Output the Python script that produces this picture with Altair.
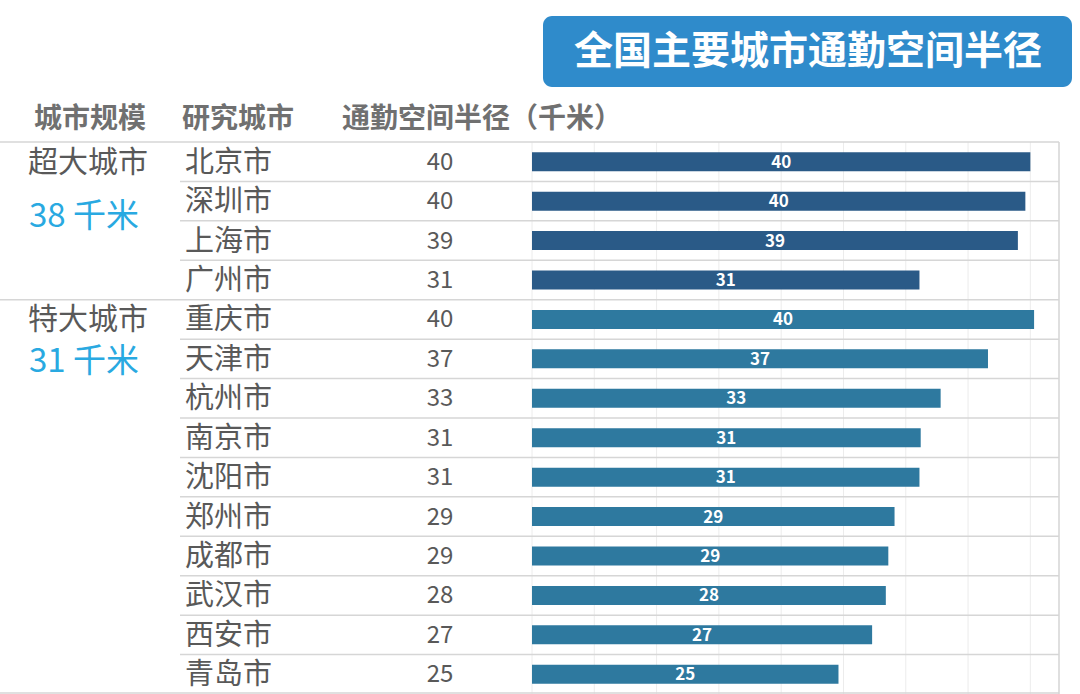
import altair as alt
import pandas as pd

# ---- data ----
groups = ["超大城市"] * 4 + ["特大城市"] * 10
cities = ["北京市", "深圳市", "上海市", "广州市", "重庆市", "天津市", "杭州市",
          "南京市", "沈阳市", "郑州市", "成都市", "武汉市", "西安市", "青岛市"]
radius = [40.0, 39.6, 39.0, 31.1, 40.3, 36.6, 32.8, 31.2, 31.1, 29.1, 28.6, 28.4, 27.3, 24.6]
group_names = ["超大城市", "特大城市"]
group_avg = [38, 31]
grid_ticks = [0, 5, 10, 15, 20, 25, 30, 35, 40]
title_text = "全国主要城市通勤空间半径"
headers = ["城市规模", "研究城市", "通勤空间半径（千米）"]

FONT = "Noto Sans CJK SC"
TXT = "#595959"

df = pd.DataFrame({"group": groups, "city": cities, "radius": radius})
df["label"] = df["radius"].round().astype(int).astype(str)
df["first"] = df["group"] != df["group"].shift(1)

gdf = pd.DataFrame({"group": group_names, "avg": group_avg})
gdf["first_city"] = [df[df.group == g].city.iloc[0] for g in group_names]
gdf["second_city"] = [df[df.group == g].city.iloc[1] for g in group_names]
gdf["avg_text"] = gdf["avg"].astype(str) + " 千米"

ticks_df = pd.DataFrame({"tick": grid_ticks})
one = alt.Data(values=[{}])

xscale = alt.Scale(domain=[0, 42.3], range=[532, 1059])
yscale = alt.Scale(domain=cities, paddingInner=0, paddingOuter=0)
Yc = alt.Y("city:N", scale=yscale, axis=None, sort=cities)

# vertical grid lines
grid = alt.Chart(ticks_df).mark_rule(color="#ececec", strokeWidth=1).encode(
    x=alt.X("tick:Q", scale=xscale, axis=None)
)
right_border = alt.Chart(one).mark_rule(color="#d4d4d4", strokeWidth=1.5).encode(
    x=alt.value(1059), y=alt.value(0), y2=alt.value(552)
)

# horizontal row separators
row_lines = alt.Chart(df).transform_filter("!datum.first").mark_rule(
    color="#d6d6d6", strokeWidth=1.5
).encode(
    y=alt.Y("city:N", scale=yscale, axis=None, sort=cities, bandPosition=0),
    x=alt.value(180), x2=alt.value(1059)
)
group_lines = alt.Chart(df).transform_filter("datum.first").mark_rule(
    color="#d6d6d6", strokeWidth=1.5
).encode(
    y=alt.Y("city:N", scale=yscale, axis=None, sort=cities, bandPosition=0),
    x=alt.value(0), x2=alt.value(1059)
)
bottom_line = alt.Chart(one).mark_rule(color="#d6d6d6", strokeWidth=1.5).encode(
    y=alt.value(551), x=alt.value(0), x2=alt.value(1059)
)

bars = alt.Chart(df).mark_bar(height=19).encode(
    x=alt.X("radius:Q", scale=xscale, axis=None),
    y=Yc,
    color=alt.Color("group:N", scale=alt.Scale(domain=group_names,
                                               range=["#2a5a87", "#2e799f"]),
                    legend=None),
)
bar_labels = alt.Chart(df).transform_calculate(mid="datum.radius / 2").mark_text(
    font=FONT, fontSize=17, fontWeight="bold", color="white", baseline="middle",
    align="center", dy=1
).encode(
    x=alt.X("mid:Q", scale=xscale, axis=None), y=Yc, text="label:N"
)

city_text = alt.Chart(df).mark_text(
    font=FONT, fontSize=29, color=TXT, align="left", baseline="middle", dy=1
).encode(x=alt.value(185), y=Yc, text="city:N")

value_text = alt.Chart(df).mark_text(
    font=FONT, fontSize=24, color=TXT, align="center", baseline="middle", dy=1
).encode(x=alt.value(440), y=Yc, text="label:N")

group_text = alt.Chart(gdf).mark_text(
    font=FONT, fontSize=30, color=TXT, align="center", baseline="middle", dy=1
).encode(
    x=alt.value(88),
    y=alt.Y("first_city:N", scale=yscale, axis=None, sort=cities),
    text="group:N",
)
avg1 = alt.Chart(gdf).transform_filter(alt.datum.group == group_names[0]).mark_text(
    font=FONT, fontSize=33, color="#29a9e1", align="center", baseline="middle", dy=16
).encode(
    x=alt.value(84),
    y=alt.Y("second_city:N", scale=yscale, axis=None, sort=cities),
    text="avg_text:N",
)
avg2 = alt.Chart(gdf).transform_filter(alt.datum.group == group_names[1]).mark_text(
    font=FONT, fontSize=33, color="#29a9e1", align="center", baseline="middle", dy=3
).encode(
    x=alt.value(84),
    y=alt.Y("second_city:N", scale=yscale, axis=None, sort=cities),
    text="avg_text:N",
)

hdr_style = dict(font=FONT, fontSize=28, fontWeight="bold", color="#707070", baseline="middle")
h1 = alt.Chart(one).mark_text(text=headers[0], align="center", **hdr_style).encode(
    x=alt.value(90), y=alt.value(-22))
h2 = alt.Chart(one).mark_text(text=headers[1], align="center", **hdr_style).encode(
    x=alt.value(238), y=alt.value(-22))
h3 = alt.Chart(one).mark_text(text=headers[2], align="left", **hdr_style).encode(
    x=alt.value(342), y=alt.value(-22))

title_box = alt.Chart(one).mark_rect(color="#2f8bcb", cornerRadius=9).encode(
    x=alt.value(543), x2=alt.value(1072), y=alt.value(-126), y2=alt.value(-55))
title = alt.Chart(one).mark_text(
    text=title_text, font=FONT, fontSize=39, fontWeight="bold", color="white",
    align="center", baseline="middle"
).encode(x=alt.value(808), y=alt.value(-90))

chart = alt.layer(
    grid, right_border, row_lines, group_lines, bottom_line, bars, bar_labels,
    city_text, value_text, group_text, avg1, avg2, h1, h2, h3, title_box, title
).properties(
    width=1080, height=552,
    padding={"top": 142, "left": 0, "right": 0, "bottom": 0},
    autosize=alt.AutoSizeParams(type="none"),
    background="white",
).configure_view(stroke=None)

chart.save("out.html", embed_options={"renderer": "svg", "actions": False})
